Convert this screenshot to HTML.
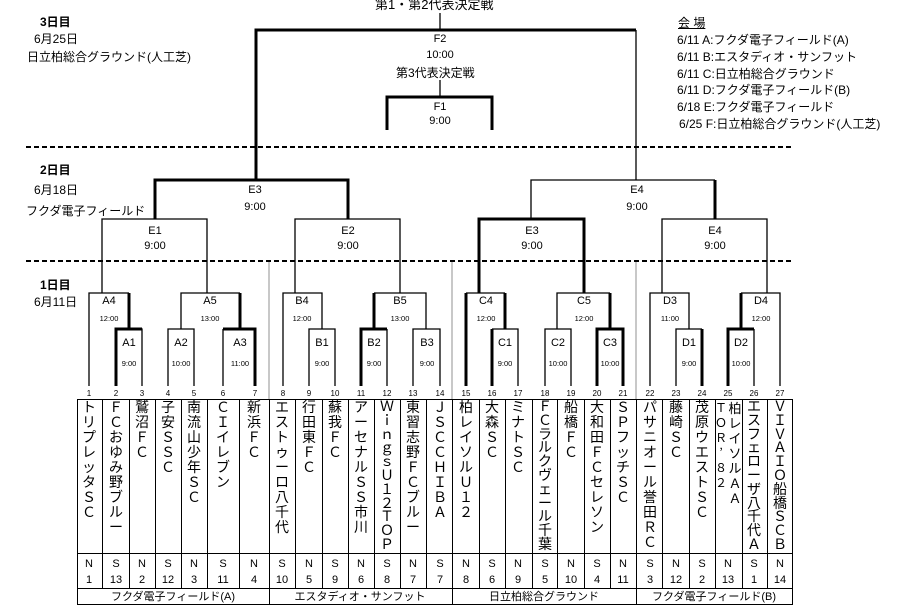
<!DOCTYPE html>
<html><head><meta charset="utf-8">
<style>
body{margin:0;width:909px;height:607px;background:#fff;position:relative;overflow:hidden;font-family:"Liberation Sans","Noto Sans CJK JP",sans-serif;color:#000}
svg{position:absolute;left:0;top:0}
.n{position:absolute;top:400px;width:16px;font-size:14px;line-height:15px;text-align:center;word-break:break-all;font-family:"Noto Sans CJK JP","Liberation Sans",sans-serif}
.t{position:absolute;font-size:12px;white-space:nowrap;font-family:"Liberation Sans","Noto Sans CJK JP",sans-serif}
</style></head><body>
<svg width="909" height="607" font-family="Liberation Sans, Noto Sans CJK JP, sans-serif">
<g stroke="#aaa" stroke-width="1.3" fill="none">
<path d="M269 261V399M452 261V399M636 261V399"/>
</g>
<g stroke="#000" stroke-width="2" stroke-dasharray="5,3" fill="none">
<path d="M26 147H793M26 261H793"/>
</g>
<g stroke="#000" stroke-width="1.3" fill="none">
<path d="M440 13V30M636 30V180M440 80V97"/>
<path d="M531 219V180H715"/>
<path d="M102 293V219H207V293M295 293V219H400V293M662 293V219H767V293"/>
<path d="M89 386V293H129M116 329H142V386M181 329V293H240M168 386V329H194V386M223 386V329"/>
<path d="M283 386V293H322V329M309 386V329H335V386M374 293H426V329M387 329V386M413 386V329H440V386"/>
<path d="M466 293H505M518 386V329H492M557 329V293H610M545 386V329H571V386"/>
<path d="M650 386V293H689V329M676 386V329H702M741 293H780V386M754 329V386"/>
</g>
<g stroke="#000" stroke-width="3" fill="none">
<path d="M256 180V30H636"/>
<path d="M387 130V97H492V130"/>
<path d="M155 219V180H348V219M479 293V219H584V293M715 180V219"/>
<path d="M129 293V329M116 386V329H142"/>
<path d="M240 293V329M223 329H255V386"/>
<path d="M374 329V293M361 386V329H387"/>
<path d="M466 386V293M505 293V329M492 329V386"/>
<path d="M610 293V329M597 386V329H623V386"/>
<path d="M702 386V329M741 293V329M728 386V329H754"/>
</g>
<g font-size="11" text-anchor="middle">
<text x="440" y="42">F2</text><text x="440" y="58">10:00</text>
<text x="440" y="110">F1</text><text x="440" y="124">9:00</text>
<text x="255" y="193">E3</text><text x="255" y="210">9:00</text>
<text x="637" y="193">E4</text><text x="637" y="210">9:00</text>
<text x="155" y="234">E1</text><text x="155" y="249">9:00</text>
<text x="348" y="234">E2</text><text x="348" y="249">9:00</text>
<text x="532" y="234">E3</text><text x="532" y="249">9:00</text>
<text x="715" y="234">E4</text><text x="715" y="249">9:00</text>
</g>
<g font-size="11" text-anchor="middle">
<text x="109" y="304">A4</text><text x="210" y="304">A5</text><text x="302" y="304">B4</text><text x="400" y="304">B5</text>
<text x="486" y="304">C4</text><text x="584" y="304">C5</text><text x="670" y="304">D3</text><text x="761" y="304">D4</text>
<text x="129" y="346">A1</text><text x="181" y="346">A2</text><text x="240" y="346">A3</text>
<text x="322" y="346">B1</text><text x="374" y="346">B2</text><text x="427" y="346">B3</text>
<text x="505" y="346">C1</text><text x="558" y="346">C2</text><text x="610" y="346">C3</text>
<text x="689" y="346">D1</text><text x="741" y="346">D2</text>
</g>
<g font-size="7.5" text-anchor="middle">
<text x="109" y="321">12:00</text><text x="210" y="321">13:00</text><text x="302" y="321">12:00</text><text x="400" y="321">13:00</text>
<text x="486" y="321">12:00</text><text x="584" y="321">12:00</text><text x="670" y="321">11:00</text><text x="761" y="321">12:00</text>
<text x="129" y="366">9:00</text><text x="181" y="366">10:00</text><text x="240" y="366">11:00</text>
<text x="322" y="366">9:00</text><text x="374" y="366">9:00</text><text x="427" y="366">9:00</text>
<text x="505" y="366">9:00</text><text x="558" y="366">10:00</text><text x="610" y="366">10:00</text>
<text x="689" y="366">9:00</text><text x="741" y="366">10:00</text>
</g>
<g font-size="8" text-anchor="middle">
<text x="89" y="396">1</text><text x="116" y="396">2</text><text x="142" y="396">3</text><text x="168" y="396">4</text><text x="194" y="396">5</text><text x="223" y="396">6</text><text x="255" y="396">7</text>
<text x="283" y="396">8</text><text x="309" y="396">9</text><text x="335" y="396">10</text><text x="361" y="396">11</text><text x="387" y="396">12</text><text x="413" y="396">13</text><text x="440" y="396">14</text>
<text x="466" y="396">15</text><text x="492" y="396">16</text><text x="518" y="396">17</text><text x="545" y="396">18</text><text x="571" y="396">19</text><text x="597" y="396">20</text><text x="623" y="396">21</text>
<text x="650" y="396">22</text><text x="676" y="396">23</text><text x="702" y="396">24</text><text x="728" y="396">25</text><text x="754" y="396">26</text><text x="780" y="396">27</text>
</g>
<g stroke="#000" stroke-width="1" fill="none">
<rect x="77.5" y="399.5" width="715" height="205"/>
<path d="M77 553.5H793M77 588.5H793"/>
<path d="M102.5 399V588M129.5 399V588M155.5 399V588M181.5 399V588M207.5 399V588M239.5 399V588M269.5 399V605M295.5 399V588M322.5 399V588M348.5 399V588M374.5 399V588M400.5 399V588M426.5 399V588M452.5 399V605M479.5 399V588M505.5 399V588M532.5 399V588M557.5 399V588M584.5 399V588M610.5 399V588M636.5 399V605M662.5 399V588M689.5 399V588M715.5 399V588M742.5 399V588M767.5 399V588"/>
</g>
<g font-size="11" text-anchor="middle">
<text x="89" y="567">N</text><text x="89" y="583">1</text>
<text x="116" y="567">S</text><text x="116" y="583">13</text>
<text x="142" y="567">N</text><text x="142" y="583">2</text>
<text x="168" y="567">S</text><text x="168" y="583">12</text>
<text x="194" y="567">N</text><text x="194" y="583">3</text>
<text x="223" y="567">S</text><text x="223" y="583">11</text>
<text x="254" y="567">N</text><text x="254" y="583">4</text>
<text x="282" y="567">S</text><text x="282" y="583">10</text>
<text x="309" y="567">N</text><text x="309" y="583">5</text>
<text x="335" y="567">S</text><text x="335" y="583">9</text>
<text x="361" y="567">N</text><text x="361" y="583">6</text>
<text x="387" y="567">S</text><text x="387" y="583">8</text>
<text x="413" y="567">N</text><text x="413" y="583">7</text>
<text x="440" y="567">S</text><text x="440" y="583">7</text>
<text x="466" y="567">N</text><text x="466" y="583">8</text>
<text x="492" y="567">S</text><text x="492" y="583">6</text>
<text x="518" y="567">N</text><text x="518" y="583">9</text>
<text x="545" y="567">S</text><text x="545" y="583">5</text>
<text x="571" y="567">N</text><text x="571" y="583">10</text>
<text x="597" y="567">S</text><text x="597" y="583">4</text>
<text x="623" y="567">N</text><text x="623" y="583">11</text>
<text x="650" y="567">S</text><text x="650" y="583">3</text>
<text x="676" y="567">N</text><text x="676" y="583">12</text>
<text x="702" y="567">S</text><text x="702" y="583">2</text>
<text x="728" y="567">N</text><text x="728" y="583">13</text>
<text x="754" y="567">S</text><text x="754" y="583">1</text>
<text x="780" y="567">N</text><text x="780" y="583">14</text>
</g>
<g font-size="11" text-anchor="middle">
<text x="173" y="600">フクダ電子フィールド(A)</text>
<text x="360" y="600">エスタディオ・サンフット</text>
<text x="544" y="600">日立柏総合グラウンド</text>
<text x="714" y="600">フクダ電子フィールド(B)</text>
</g>
</svg>

<div class="t" style="left:375px;top:-6px;font-size:13px">第1・第2代表決定戦</div>
<div class="t" style="left:396px;top:64px;font-size:12px">第3代表決定戦</div>

<div class="t" style="left:40px;top:13px;font-weight:bold">3日目</div>
<div class="t" style="left:34px;top:30px">6月25日</div>
<div class="t" style="left:27px;top:48px">日立柏総合グラウンド(人工芝)</div>
<div class="t" style="left:40px;top:161px;font-weight:bold">2日目</div>
<div class="t" style="left:34px;top:181px">6月18日</div>
<div class="t" style="left:26px;top:202px">フクダ電子フィールド</div>
<div class="t" style="left:40px;top:276px;font-weight:bold">1日目</div>
<div class="t" style="left:34px;top:293px">6月11日</div>

<div class="t" style="left:678px;top:14px;text-decoration:underline">会 場</div>
<div class="t" style="left:677px;top:31px">6/11 A:フクダ電子フィールド(A)</div>
<div class="t" style="left:677px;top:48px">6/11 B:エスタディオ・サンフット</div>
<div class="t" style="left:677px;top:65px">6/11 C:日立柏総合グラウンド</div>
<div class="t" style="left:677px;top:81px">6/11 D:フクダ電子フィールド(B)</div>
<div class="t" style="left:677px;top:98px">6/18 E:フクダ電子フィールド</div>
<div class="t" style="left:679px;top:115px">6/25 F:日立柏総合グラウンド(人工芝)</div>

<div class="n" style="left:81px">トリプレッタＳＣ</div>
<div class="n" style="left:108px">ＦＣおゆみ野ブルー</div>
<div class="n" style="left:134px">鷲沼ＦＣ</div>
<div class="n" style="left:160px">子安ＳＳＣ</div>
<div class="n" style="left:186px">南流山少年ＳＣ</div>
<div class="n" style="left:215px">ＣＩイレブン</div>
<div class="n" style="left:246px">新浜ＦＣ</div>
<div class="n" style="left:274px">エストゥーロ八千代</div>
<div class="n" style="left:301px">行田東ＦＣ</div>
<div class="n" style="left:327px">蘇我ＦＣ</div>
<div class="n" style="left:353px">アーセナルＳＳ市川</div>
<div class="n" style="left:379px;line-height:13.8px">ＷｉｎｇｓＵ１２ＴＯＰ</div>
<div class="n" style="left:405px">東習志野ＦＣブルー</div>
<div class="n" style="left:432px">ＪＳＣ　ＣＨＩＢＡ</div>
<div class="n" style="left:458px">柏レイソルＵ１２</div>
<div class="n" style="left:484px">大森ＳＣ</div>
<div class="n" style="left:510px">ミナトＳＣ</div>
<div class="n" style="left:537px;line-height:13.8px">ＦＣラルクヴェール千葉</div>
<div class="n" style="left:563px">船橋ＦＣ</div>
<div class="n" style="left:589px">大和田ＦＣセレソン</div>
<div class="n" style="left:615px">ＳＰフッチＳＣ</div>
<div class="n" style="left:642px">パサニオール誉田ＲＣ</div>
<div class="n" style="left:668px">藤崎ＳＣ</div>
<div class="n" style="left:694px">茂原ウエストＳＣ</div>
<div class="n" style="left:714px;width:14px;font-size:12px">Ｔ<br>Ｏ<br>Ｒ<br>’<br>８<br>２</div>
<div class="n" style="left:728px;width:14px;font-size:13px">柏レイソルＡＡ</div>
<div class="n" style="left:746px;line-height:13.8px">エスフェローザ八千代Ａ</div>
<div class="n" style="left:772px;line-height:13.8px">ＶＩＶＡＩＯ船橋ＳＣＢ</div>
</body></html>
